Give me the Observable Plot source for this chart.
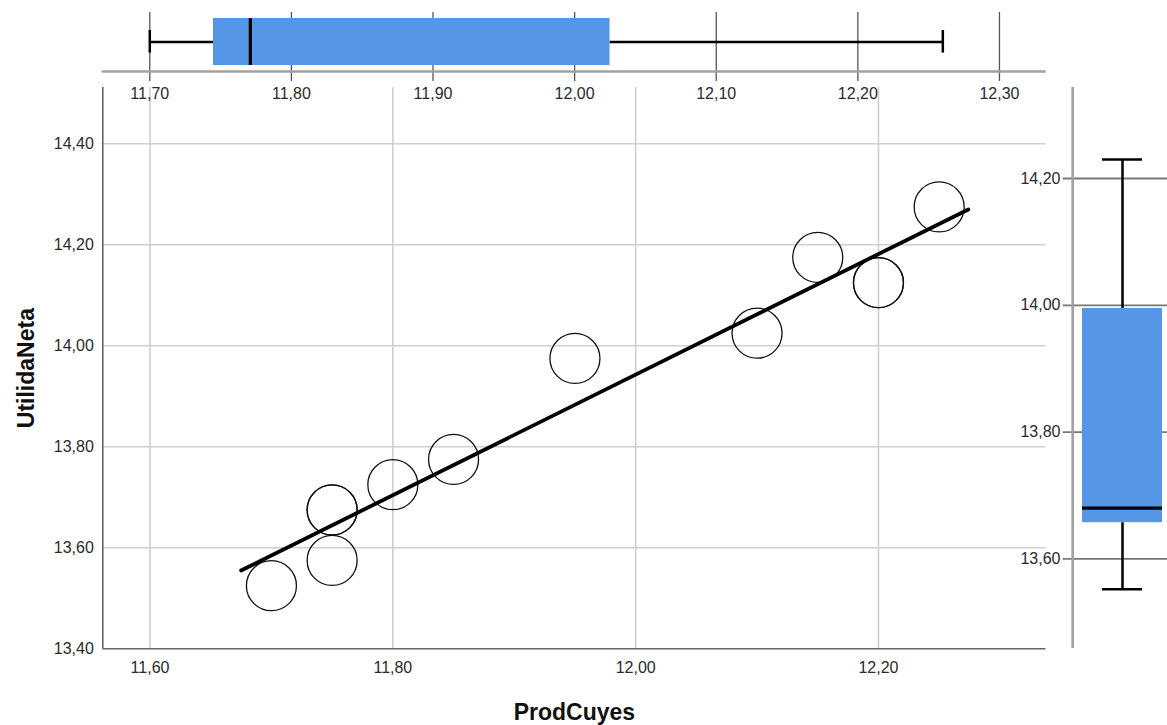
<!DOCTYPE html>
<html>
<head>
<meta charset="utf-8">
<script src="https://cdn.jsdelivr.net/npm/d3@7"></script>
<script src="https://cdn.jsdelivr.net/npm/@observablehq/plot@0.6"></script>
<style>
  html, body { margin: 0; padding: 0; background: #ffffff; }
  #chart { position: relative; width: 1167px; height: 725px; overflow: hidden; }
  #chart > svg { position: absolute; left: 0; top: 0; max-width: none; }
</style>
</head>
<body>
<div id="chart"></div>
<script>
// ---- Data ----
const prodCuyes   = [11.70, 11.75, 11.75, 11.75, 11.80, 11.85, 11.95, 12.10, 12.15, 12.20, 12.20, 12.25];
const utilidaNeta = [13.525, 13.575, 13.675, 13.675, 13.725, 13.775, 13.975, 14.025, 14.175, 14.125, 14.125, 14.275];

// fitted line (endpoints)
const fitX = [11.675, 12.274];
const fitY = [13.555, 14.270];

// main axis ticks
const mainXTicks = [11.60, 11.80, 12.00, 12.20];
const mainYTicks = [13.40, 13.60, 13.80, 14.00, 14.20, 14.40];

// boxplot summaries
const boxNames   = ["ProdCuyes", "UtilidaNeta"];
const boxMin     = [11.700, 13.552];
const boxQ1      = [11.745, 13.657];
const boxMedian  = [11.771, 13.680];
const boxQ3      = [12.025, 13.995];
const boxMax     = [12.260, 14.230];

const topTicks   = [11.70, 11.80, 11.90, 12.00, 12.10, 12.20, 12.30];
const rightTicks = [13.60, 13.80, 14.00, 14.20];

// ---- Derived tables ----
const points = prodCuyes.map((x, i) => ({x, y: utilidaNeta[i]}));
const fit = fitX.map((x, i) => ({x, y: fitY[i]}));
const stats = boxNames.map((name, i) => ({name, min: boxMin[i], q1: boxQ1[i], median: boxMedian[i], q3: boxQ3[i], max: boxMax[i]}));
const topStats = [stats[0]];
const rightStats = [stats[1]];

const fmt = d => d.toFixed(2).replace(".", ",");
const W = 1167, H = 725;
const FONT = "'Liberation Sans', Arial, sans-serif";
const BLUE = "#5596e6";
const baseStyle = {fontFamily: FONT, fontSize: "16px", color: "#2a2a2a", background: "transparent", overflow: "visible"};

const chart = document.getElementById("chart");

// ---- Main scatter ----
const xDom = [11.5611, 12.338];
const yDom = [13.40, 14.5115];
const mainPlot = Plot.plot({
  width: W, height: H,
  marginLeft: 102.3, marginRight: 121.5, marginTop: 87, marginBottom: 76.7,
  style: baseStyle,
  x: {domain: xDom, ticks: mainXTicks, tickFormat: fmt, tickSize: 0, tickPadding: 13, label: null},
  y: {domain: yDom, ticks: mainYTicks, tickFormat: fmt, tickSize: 0, tickPadding: 9, label: null},
  marks: [
    Plot.ruleX(mainXTicks, {stroke: "#cfcfcf", strokeWidth: 1.6}),
    Plot.ruleY(mainYTicks.slice(1), {stroke: "#cfcfcf", strokeWidth: 1.6}),
    Plot.ruleX([xDom[0]], {stroke: "#666", strokeWidth: 1.6}),
    Plot.ruleY([yDom[0]], {stroke: "#666", strokeWidth: 1.6}),
    Plot.dot(points, {x: "x", y: "y", r: 25, stroke: "#111", strokeWidth: 1.3, fill: "none"}),
    Plot.line(fit, {x: "x", y: "y", stroke: "#000", strokeWidth: 3.8}),
    Plot.text(["ProdCuyes"], {frameAnchor: "bottom", dy: 63.7, lineAnchor: "middle", textAnchor: "middle", text: d => d, fontSize: 23, fontWeight: "bold", fill: "#111"}),
    Plot.text(["UtilidaNeta"], {frameAnchor: "left", dx: -76, rotate: -90, lineAnchor: "middle", textAnchor: "middle", text: d => d, fontSize: 23, fontWeight: "bold", fill: "#111"})
  ]
});
chart.appendChild(mainPlot);

// ---- Top boxplot (ProdCuyes) ----
const topPlot = Plot.plot({
  width: W, height: H,
  marginLeft: 101.7, marginRight: 121.3, marginTop: 18, marginBottom: H - 65.7,
  style: baseStyle,
  x: {domain: [11.6664, 12.333], ticks: topTicks, tickFormat: fmt, tickSize: 0, tickPadding: 21, label: null},
  y: {domain: ["ProdCuyes"], padding: 0, axis: null},
  marks: [
    Plot.ruleX(topTicks, {stroke: "#555", strokeWidth: 1.3, insetTop: -6, insetBottom: -15.3}),
    Plot.ruleY(topStats, {y: "name", dy: 29.45, stroke: "#a0a0a0", strokeWidth: 2.6}),
    Plot.ruleY(topStats, {y: "name", x1: "min", x2: "q1", stroke: "#000", strokeWidth: 2.5}),
    Plot.ruleY(topStats, {y: "name", x1: "q3", x2: "max", stroke: "#000", strokeWidth: 2.5}),
    Plot.tickX(topStats, {y: "name", x: "min", stroke: "#000", strokeWidth: 2.5, insetTop: 12, insetBottom: 12.4}),
    Plot.tickX(topStats, {y: "name", x: "max", stroke: "#000", strokeWidth: 2.5, insetTop: 12, insetBottom: 12.4}),
    Plot.barX(topStats, {y: "name", x1: "q1", x2: "q3", fill: BLUE}),
    Plot.tickX(topStats, {y: "name", x: "median", stroke: "#000", strokeWidth: 3.2})
  ]
});
chart.appendChild(topPlot);

// ---- Right boxplot (UtilidaNeta) ----
const rightPlot = Plot.plot({
  width: W, height: H,
  marginLeft: 1081.7, marginRight: 5, marginTop: 87, marginBottom: 77,
  style: baseStyle,
  x: {domain: ["UtilidaNeta"], padding: 0, axis: null},
  y: {domain: [13.4585, 14.3436], ticks: rightTicks, tickFormat: fmt, tickSize: 0, tickPadding: 21.7, label: null},
  marks: [
    Plot.ruleY(rightTicks, {stroke: "#777", strokeWidth: 1.8, insetLeft: -19, insetRight: -5}),
    Plot.ruleX(rightStats, {x: "name", dx: -49.85, stroke: "#a0a0a0", strokeWidth: 2.6}),
    Plot.ruleX(rightStats, {x: "name", y1: "min", y2: "q1", stroke: "#000", strokeWidth: 2.5}),
    Plot.ruleX(rightStats, {x: "name", y1: "q3", y2: "max", stroke: "#000", strokeWidth: 2.5}),
    Plot.tickY(rightStats, {x: "name", y: "min", stroke: "#000", strokeWidth: 2.5, insetLeft: 20, insetRight: 20}),
    Plot.tickY(rightStats, {x: "name", y: "max", stroke: "#000", strokeWidth: 2.5, insetLeft: 20, insetRight: 20}),
    Plot.barY(rightStats, {x: "name", y1: "q1", y2: "q3", fill: BLUE}),
    Plot.tickY(rightStats, {x: "name", y: "median", stroke: "#000", strokeWidth: 3.2})
  ]
});
chart.appendChild(rightPlot);
</script>
</body>
</html>
